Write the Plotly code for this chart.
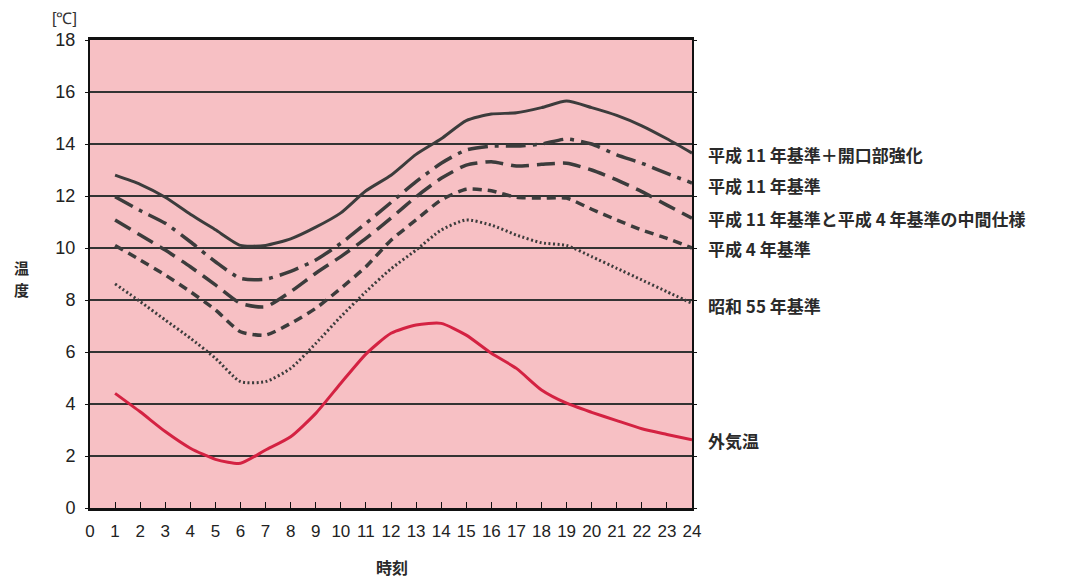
import plotly.graph_objects as go

hours = list(range(1, 25))

s_kaikou = [12.8, 12.45, 11.95, 11.3, 10.7, 10.1, 10.1, 10.35, 10.8, 11.35, 12.2, 12.8,
            13.6, 14.2, 14.9, 15.15, 15.2, 15.4, 15.65, 15.4, 15.1, 14.7, 14.2, 13.65]
s_h11 = [11.97, 11.44, 10.95, 10.24, 9.47, 8.83, 8.8, 9.1, 9.54, 10.18, 10.95, 11.75,
         12.55, 13.26, 13.77, 13.92, 13.92, 14.0, 14.19, 14.0, 13.58, 13.26, 12.87, 12.5]
s_mid = [11.08, 10.5, 9.92, 9.28, 8.58, 7.87, 7.74, 8.32, 9.03, 9.67, 10.37, 11.15,
         11.97, 12.68, 13.19, 13.32, 13.15, 13.22, 13.26, 13.0, 12.62, 12.17, 11.65, 11.15]
s_h4 = [10.1, 9.54, 8.96, 8.32, 7.62, 6.78, 6.65, 7.1, 7.68, 8.45, 9.28, 10.3,
        11.08, 11.85, 12.26, 12.2, 11.95, 11.92, 11.92, 11.49, 11.08, 10.69, 10.37, 10.0]
s_s55 = [8.62, 7.94, 7.23, 6.53, 5.76, 4.86, 4.86, 5.37, 6.33, 7.36, 8.32, 9.2,
         9.92, 10.69, 11.08, 10.88, 10.5, 10.2, 10.1, 9.67, 9.22, 8.77, 8.32, 7.87]
s_out = [4.41, 3.7, 2.94, 2.3, 1.87, 1.72, 2.23, 2.74, 3.64, 4.8, 5.92, 6.72,
         7.04, 7.1, 6.65, 5.95, 5.37, 4.54, 4.03, 3.68, 3.36, 3.05, 2.83, 2.62]

labels = ["平成 11 年基準＋開口部強化", "平成 11 年基準", "平成 11 年基準と平成 4 年基準の中間仕様",
          "平成 4 年基準", "昭和 55 年基準", "外気温"]
label_y = [13.58, 12.42, 11.15, 10.0, 7.8, 2.6]

y_title_chars = ["温", "度"]

x_ticks = list(range(0, 25))
y_ticks = list(range(0, 19, 2))

dark = "#3c3c3c"
series = [
    (s_kaikou, dict(color=dark, width=3, dash="solid")),
    (s_h11, dict(color=dark, width=3.5, dash="20px,7px,4px,7px")),
    (s_mid, dict(color=dark, width=3.5, dash="18px,8px")),
    (s_h4, dict(color=dark, width=3.5, dash="9px,6px")),
    (s_s55, dict(color=dark, width=3, dash="2px,2.5px")),
    (s_out, dict(color="#d42242", width=3, dash="solid")),
]

fig = go.Figure()
for (vals, ln), name in zip(series, labels):
    fig.add_trace(go.Scatter(x=hours, y=vals, mode="lines", name=name,
                             line=dict(shape="spline", smoothing=0.6, **ln)))

jp = "Noto Sans CJK JP"
for t, yv in zip(labels, label_y):
    fig.add_annotation(text="<b>" + t + "</b>", x=1.023, xref="paper", y=yv, yref="y",
                       xanchor="left", yanchor="middle", showarrow=False,
                       font=dict(family=jp, size=17, color="#2a2a2a"))

fig.add_annotation(text="[℃]", x=-0.042, xref="paper", y=1.047, yref="paper",
                   xanchor="center", yanchor="middle", showarrow=False,
                   font=dict(family="Liberation Sans, Arial", size=16, color="#333"))
for ch, yp in zip(y_title_chars, [0.513, 0.466]):
    fig.add_annotation(text="<b>" + ch + "</b>", x=-0.1146, xref="paper", y=yp, yref="paper",
                       xanchor="center", yanchor="middle", showarrow=False,
                       font=dict(family=jp, size=15, color="#2a2a2a"))
fig.add_annotation(text="<b>時刻</b>", x=0.502, xref="paper", y=-0.125, yref="paper",
                   xanchor="center", yanchor="middle", showarrow=False,
                   font=dict(family=jp, size=16, color="#2a2a2a"))

fig.update_layout(
    width=1076, height=580,
    margin=dict(l=82, r=392, t=32, b=80),
    paper_bgcolor="white", plot_bgcolor="#f7c0c4",
    showlegend=False,
    font=dict(family="Liberation Sans, Arial", size=16, color="#222"),
)
fig.update_xaxes(range=[0, 24], tickvals=x_ticks, ticktext=[str(v) for v in x_ticks],
                 showgrid=False, zeroline=False, showline=True, linecolor="#111", linewidth=2.5,
                 mirror=True, ticks="inside", ticklen=6, tickcolor="#111", tickwidth=1,
                 ticklabelstandoff=6,
                 tickfont=dict(size=17, family="Liberation Sans Narrow, Liberation Sans, Arial"))
fig.update_yaxes(range=[0, 18], tickvals=y_ticks, showgrid=True, gridcolor="#333", gridwidth=1.5,
                 zeroline=False, showline=True, linecolor="#111", linewidth=2, mirror="ticks",
                 ticks="outside", ticklen=3, tickcolor="#111", ticklabelstandoff=6,
                 tickfont=dict(size=18))

fig.write_html("out.html")
